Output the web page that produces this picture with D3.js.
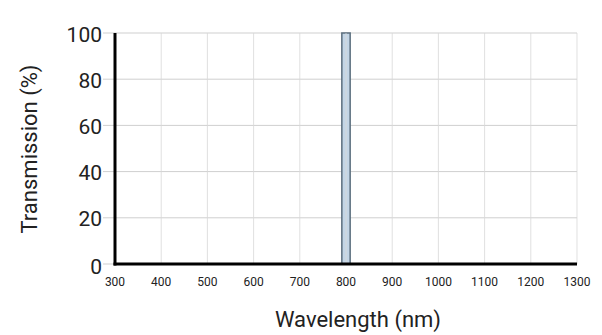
<!DOCTYPE html>
<html><head><meta charset="utf-8">
<script src="https://cdn.jsdelivr.net/npm/d3@7"></script>
<style>body{margin:0;background:#fff;} svg{display:block;font-family:Roboto,"Noto Sans",sans-serif;}</style>
</head><body>
<svg id="c" width="602" height="335"></svg>
<script>
const wavelengths = [791, 791, 809, 809];
const transmission = [0, 100, 100, 0];
const xTicks = [300,400,500,600,700,800,900,1000,1100,1200,1300];
const yTicks = [0,20,40,60,80,100];

const svg = d3.select("#c");
const m = {l:115, r:577, t:33, b:264};
const x = d3.scaleLinear().domain([300,1300]).range([m.l, m.r]);
const y = d3.scaleLinear().domain([0,100]).range([m.b, m.t]);

// grid
svg.append("g").selectAll("line").data(yTicks).join("line")
  .attr("x1", m.l-12).attr("x2", m.r).attr("y1", d=>y(d)).attr("y2", d=>y(d))
  .attr("stroke","#cfcfcf").attr("stroke-width",1);

// band
const pts = wavelengths.map((w,i)=>[w, transmission[i]]);
svg.append("path").datum(pts)
  .attr("d", d3.line().x(d=>x(d[0])).y(d=>y(d[1])))
  .attr("fill","#c3d5e6").attr("stroke","#5b6e7e").attr("stroke-width",1.5);

svg.append("g").selectAll("line").data(xTicks).join("line")
  .attr("x1", d=>x(d)).attr("x2", d=>x(d)).attr("y1", m.t).attr("y2", m.b)
  .attr("stroke","#d8d8d8").attr("stroke-opacity",0.8).attr("stroke-width",1);

// axes lines
svg.append("line").attr("x1",x(300)).attr("x2",x(300)).attr("y1",m.t).attr("y2",m.b+1.5)
  .attr("stroke","#000").attr("stroke-width",3);
svg.append("line").attr("x1",x(300)-1.5).attr("x2",m.r).attr("y1",m.b).attr("y2",m.b)
  .attr("stroke","#000").attr("stroke-width",3);

// tick labels
svg.append("g").selectAll("text").data(yTicks).join("text")
  .attr("x", m.l-13).attr("y", d=>y(d)+ (d===0?2:1)).attr("dy","0.36em")
  .attr("text-anchor","end").attr("font-size",21).attr("fill","#222").text(d=>d);
svg.append("g").selectAll("text").data(xTicks).join("text")
  .attr("x", d=>x(d)).attr("y", m.b+22)
  .attr("text-anchor","middle").attr("font-size",12).attr("fill","#222").text(d=>d);

svg.append("text").attr("x",358).attr("y",327).attr("text-anchor","middle")
  .attr("font-size",22).attr("fill","#222").text("Wavelength (nm)");
svg.append("text").attr("transform","translate(37,149) rotate(-90)").attr("text-anchor","middle")
  .attr("font-size",22).attr("fill","#222").text("Transmission (%)");
</script>
</body></html>
